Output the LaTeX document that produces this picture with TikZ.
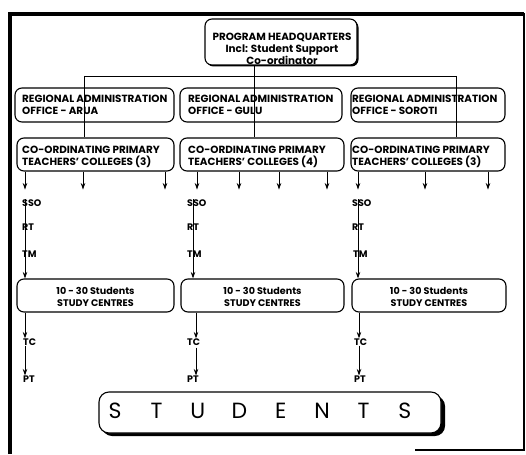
\documentclass[tikz,border=0pt]{standalone}
\usepackage{fontspec}
\setmainfont{Poppins}
\usetikzlibrary{arrows.meta}
\begin{document}
\begin{tikzpicture}[x=1pt,y=-1pt,
  box/.style={draw,line width=1.1pt,rounded corners=7pt,inner sep=0pt},
  txt/.style={font=\bfseries\fontsize{10.4}{12.5}\selectfont,inner sep=0pt,align=left,anchor=west},
  ctxt/.style={font=\bfseries\fontsize{10.4}{12}\selectfont,inner sep=0pt,align=center},
  stxt/.style={font=\bfseries\fontsize{9.6}{11.5}\selectfont,inner sep=0pt,align=center},
  lbl/.style={font=\bfseries\fontsize{9.5}{10}\selectfont,inner sep=0pt,anchor=west},
  ln/.style={line width=0.8pt},
  arr/.style={ln,-{Stealth[length=6.5pt,width=4.5pt]}}]
\useasboundingbox (0,0) rectangle (526,454);
% frame
\draw[line width=4pt] (9.5,454) -- (9.5,14) -- (524,14);
\draw[line width=2pt] (524,13) -- (524,450);
\draw[line width=2pt] (415,450) -- (525,450);

% headquarters
\fill[rounded corners=7pt] (206.5,20.5) rectangle (358.5,66.5);
\node[box,fill=white,minimum width=152pt,minimum height=46pt] (hq) at (281,42) {};
\node[ctxt] (hqt) at (282,49) {PROGRAM HEADQUARTERS\\Incl: Student Support\\Co-ordinator};

% regional offices
\node[box,minimum width=159pt,minimum height=34pt] (ra) at (94.5,105) {};
\node[box,minimum width=162pt,minimum height=34pt] (rg) at (261,105) {};
\node[box,minimum width=154pt,minimum height=34pt] (rs) at (428,105) {};
\node[txt] (rat) at (22,105) {REGIONAL ADMINISTRATION\\OFFICE - ARUA};
\node[txt] (rgt) at (188,105) {REGIONAL ADMINISTRATION\\OFFICE - GULU};
\node[txt] (rst) at (352,105) {REGIONAL ADMINISTRATION\\OFFICE - SOROTI};

% coordinating colleges
\node[box,minimum width=157pt,minimum height=33pt] (ca) at (95.5,154.5) {};
\node[box,minimum width=164pt,minimum height=33pt] (cg) at (262,154.5) {};
\node[box,minimum width=154pt,minimum height=33pt] (cs) at (428,154.5) {};
\node[txt] (cat) at (22,157) {CO-ORDINATING PRIMARY\\TEACHERS' COLLEGES (3)};
\node[txt] (cgt) at (188,157) {CO-ORDINATING PRIMARY\\TEACHERS' COLLEGES (4)};
\node[txt] (cst) at (352,157) {CO-ORDINATING PRIMARY\\TEACHERS' COLLEGES (3)};

% bus
\coordinate (busa) at (84,76);
\coordinate (busg) at (254,76);
\coordinate (buss) at (456,76);
\draw[ln] (busa) -- (buss);
\draw[ln] (hq.south -| busg) -- (cg.north -| busg);
\draw[ln] (busa) -- (ca.north -| busa);
\draw[ln] (buss) -- (cs.north -| buss);

% study centres
\node[box,minimum width=157pt,minimum height=33pt] (sa) at (95.5,295.5) {};
\node[box,minimum width=163pt,minimum height=33pt] (sg) at (262.5,295.5) {};
\node[box,minimum width=154pt,minimum height=33pt] (ss) at (429,295.5) {};
\node[stxt] (sat) at (95.5,297) {10 - 30 Students\\STUDY CENTRES};
\node[stxt] (sgt) at (262.5,297) {10 - 30 Students\\STUDY CENTRES};
\node[stxt] (sst) at (429,297) {10 - 30 Students\\STUDY CENTRES};

% labels
\node[lbl] (ssoa) at (22,203) {SSO};
\node[lbl] (rta) at (22,227) {RT};
\node[lbl] (tma) at (22,254) {TM};
\node[lbl] (tca) at (23,342) {TC};
\node[lbl] (pta) at (23,379) {PT};
\node[lbl] (ssog) at (187,203) {SSO};
\node[lbl] (rtg) at (187,227) {RT};
\node[lbl] (tmg) at (187,254) {TM};
\node[lbl] (tcg) at (187,342) {TC};
\node[lbl] (ptg) at (187,379) {PT};
\node[lbl] (ssos) at (352,203) {SSO};
\node[lbl] (rts) at (352,227) {RT};
\node[lbl] (tms) at (353,254) {TM};
\node[lbl] (tcs) at (354,342) {TC};
\node[lbl] (pts) at (354,379) {PT};

% arrows below colleges
\foreach \x in {25,83,165} \draw[arr] (ca.south -| \x,0) -- ++(0,18);
\foreach \x in {197,239,279,327} \draw[arr] (cg.south -| \x,0) -- ++(0,18);
\foreach \x in {358,425,488} \draw[arr] (cs.south -| \x,0) -- ++(0,18);

% chains to study centres
\draw[arr] (ssoa.north -| 25,0) -- (sa.north -| 25,0);
\draw[arr] (ssog.north -| 193,0) -- (sg.north -| 193,0);
\draw[arr] (ssos.north -| 358,0) -- (ss.north -| 358,0);

% study centres to TC and PT
\draw[arr] (sa.south -| 25,0) -- (tca.north -| 25,0);
\draw[arr] (tca.south -| 25,0) -- (pta.north -| 25,0);
\draw[arr] (sg.south -| 196,0) -- (tcg.north -| 196,0);
\draw[arr] (tcg.south -| 196,0) ++(0,2) -- (ptg.north -| 196,0);
\draw[arr] (ss.south -| 359,0) -- (tcs.north -| 359,0);
\draw[arr] (tcs.south -| 359,0) -- (pts.north -| 359,0);

% students
\fill[rounded corners=10pt] (102,396) rectangle (445,436);
\node[box,fill=white,rounded corners=10pt,minimum width=342pt,minimum height=41pt] (st) at (270,412.5) {};
\node[inner sep=0pt,font=\fontsize{22}{24}\selectfont] (stt) at (260,411)
  {\makebox[41.4pt]{S}\makebox[41.4pt]{T}\makebox[41.4pt]{U}\makebox[41.4pt]{D}\makebox[41.4pt]{E}\makebox[41.4pt]{N}\makebox[41.4pt]{T}\makebox[41.4pt]{S}};
\end{tikzpicture}
\end{document}
